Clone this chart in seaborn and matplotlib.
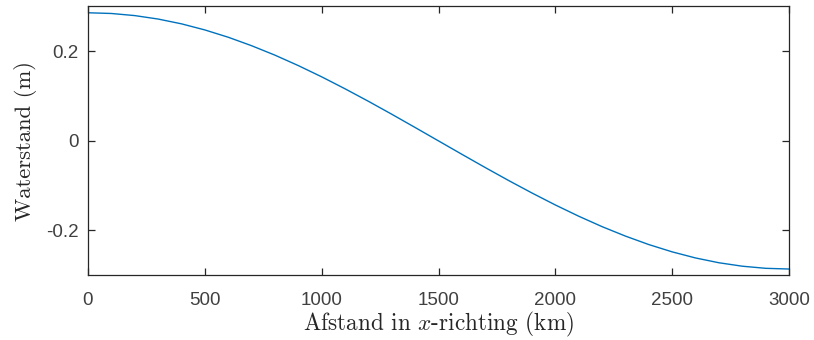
import matplotlib
matplotlib.use("Agg")
import matplotlib.pyplot as plt
import seaborn as sns
import pandas as pd

# Water level along the basin, sampled every 100 km
afstand_km = [0, 100, 200, 300, 400, 500, 600, 700, 800, 900, 1000,
              1100, 1200, 1300, 1400, 1500, 1600, 1700, 1800, 1900, 2000,
              2100, 2200, 2300, 2400, 2500, 2600, 2700, 2800, 2900, 3000]
waterstand_m = [0.2860, 0.2844, 0.2797, 0.2720, 0.2613, 0.2477, 0.2314,
                0.2125, 0.1914, 0.1681, 0.1430, 0.1163, 0.0884, 0.0595,
                0.0299, 0.0000, -0.0299, -0.0595, -0.0884, -0.1163,
                -0.1430, -0.1681, -0.1914, -0.2125, -0.2314, -0.2477,
                -0.2613, -0.2720, -0.2797, -0.2844, -0.2860]

x_ticks = [0, 500, 1000, 1500, 2000, 2500, 3000]
y_ticks = [-0.2, 0, 0.2]
y_tick_labels = ["-0.2", "0", "0.2"]

df = pd.DataFrame({"afstand": afstand_km, "waterstand": waterstand_m})

sns.set_theme(style="ticks")
plt.rcParams["mathtext.fontset"] = "cm"

fig = plt.figure(figsize=(8.14, 3.40), dpi=100)
ax = fig.add_axes([0.1081, 0.1903, 0.8612, 0.7906])

sns.lineplot(data=df, x="afstand", y="waterstand", ax=ax,
             color="#0072BD", linewidth=1.0)

ax.set_xlim(0, 3000)
ax.set_ylim(-0.3, 0.3)
ax.set_xticks(x_ticks)
ax.set_xticklabels([str(t) for t in x_ticks])
ax.set_yticks(y_ticks)
ax.set_yticklabels(y_tick_labels)

tick_color = "#404040"
ax.tick_params(axis="both", which="both", direction="in", length=5,
               width=0.9, color="#262626", top=True, right=True,
               labelsize=13.5, labelcolor=tick_color)
ax.tick_params(axis="x", pad=12)
ax.tick_params(axis="y", pad=7)
for lab in ax.get_xticklabels() + ax.get_yticklabels():
    lab.set_fontfamily("Liberation Sans")

for side in ["left", "right", "top", "bottom"]:
    ax.spines[side].set_visible(True)
    ax.spines[side].set_color("#262626")
    ax.spines[side].set_linewidth(0.9)

ax.set_xlabel(r"Afstand in $x$-richting (km)", fontfamily="cmr10",
              fontsize=16.7, color="#262626", labelpad=1)
ax.set_ylabel("Waterstand (m)", fontfamily="cmr10",
              fontsize=16.3, color="#262626", labelpad=6)

fig.savefig("out.png", dpi=100, facecolor="white")
